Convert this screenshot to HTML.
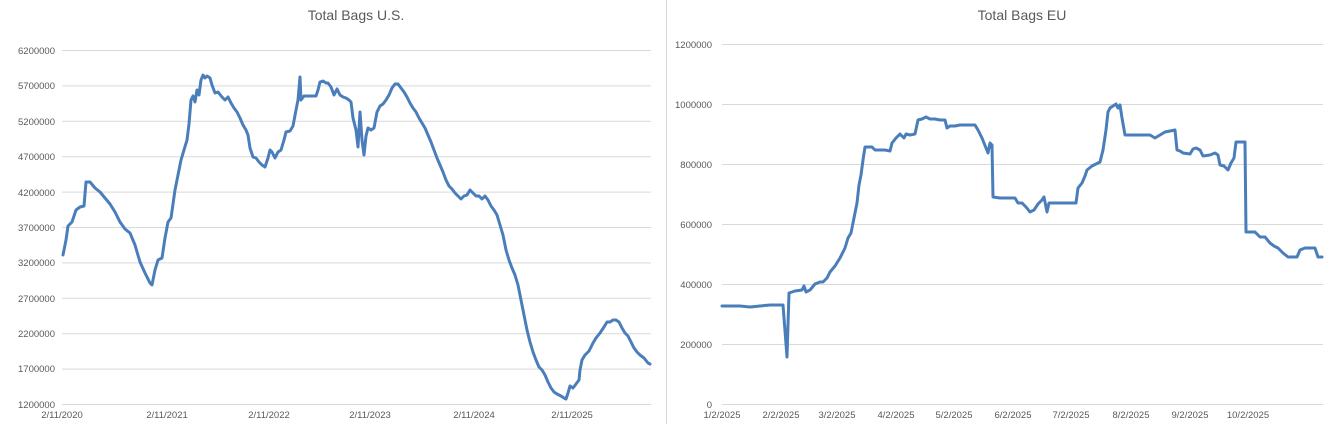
<!DOCTYPE html>
<html><head><meta charset="utf-8"><style>
html,body{margin:0;padding:0;background:#fff;}
svg{display:block;font-family:"Liberation Sans",sans-serif;}
</style></head><body>
<svg width="1331" height="424" viewBox="0 0 1331 424" xmlns="http://www.w3.org/2000/svg">
<rect width="1331" height="424" fill="#fff"/>
<line x1="666.5" y1="0" x2="666.5" y2="424" stroke="#d9d9d9"/>
<g fill="#595959" font-size="14" text-anchor="middle">
<text x="356" y="20">Total Bags U.S.</text>
<text x="1022" y="20">Total Bags EU</text>
</g>
<g stroke="#d9d9d9" stroke-width="1">
<line x1="62" x2="651" y1="50.5" y2="50.5"/><line x1="62" x2="651" y1="85.9" y2="85.9"/>
<line x1="62" x2="651" y1="121.3" y2="121.3"/><line x1="62" x2="651" y1="156.7" y2="156.7"/>
<line x1="62" x2="651" y1="192.1" y2="192.1"/><line x1="62" x2="651" y1="227.5" y2="227.5"/>
<line x1="62" x2="651" y1="262.9" y2="262.9"/><line x1="62" x2="651" y1="298.3" y2="298.3"/>
<line x1="62" x2="651" y1="333.7" y2="333.7"/><line x1="62" x2="651" y1="369.1" y2="369.1"/>
<line x1="62" x2="651" y1="404.5" y2="404.5"/>
<line x1="722" x2="1323" y1="44.5" y2="44.5"/><line x1="722" x2="1323" y1="104.5" y2="104.5"/>
<line x1="722" x2="1323" y1="164.5" y2="164.5"/><line x1="722" x2="1323" y1="224.5" y2="224.5"/>
<line x1="722" x2="1323" y1="284.5" y2="284.5"/><line x1="722" x2="1323" y1="344.5" y2="344.5"/>
<line x1="722" x2="1323" y1="404.5" y2="404.5"/>
</g>
<g fill="#595959" font-size="9.5" text-anchor="end">
<text x="55" y="54">6200000</text><text x="55" y="89">5700000</text><text x="55" y="125">5200000</text>
<text x="55" y="160">4700000</text><text x="55" y="196">4200000</text><text x="55" y="231">3700000</text>
<text x="55" y="266">3200000</text><text x="55" y="302">2700000</text><text x="55" y="337">2200000</text>
<text x="55" y="372">1700000</text><text x="55" y="408">1200000</text>
<text x="712" y="48">1200000</text><text x="712" y="108">1000000</text><text x="712" y="168">800000</text>
<text x="712" y="228">600000</text><text x="712" y="288">400000</text><text x="712" y="348">200000</text>
<text x="712" y="408">0</text>
</g>
<g fill="#595959" font-size="9.5" text-anchor="middle">
<text x="62" y="418">2/11/2020</text><text x="167" y="418">2/11/2021</text><text x="269" y="418">2/11/2022</text>
<text x="370" y="418">2/11/2023</text><text x="474" y="418">2/11/2024</text><text x="572" y="418">2/11/2025</text>
<text x="722" y="418">1/2/2025</text><text x="781" y="418">2/2/2025</text><text x="837" y="418">3/2/2025</text>
<text x="896" y="418">4/2/2025</text><text x="954" y="418">5/2/2025</text><text x="1013" y="418">6/2/2025</text>
<text x="1071" y="418">7/2/2025</text><text x="1131" y="418">8/2/2025</text><text x="1190" y="418">9/2/2025</text>
<text x="1248" y="418">10/2/2025</text>
</g>
<g fill="none" stroke="#4a7ebb" stroke-width="3" stroke-linejoin="round" stroke-linecap="round">
<polyline points="63,255 66,240 68,226 72,222 76,210 80,207 84,206 86,182 90,182 95,188 100,192 105,198 110,204 115,212 120,222 125,229 130,233 135,245 140,262 145,273 150,283 152,285 155,270 158,260 162,258 165,238 168,222 171,218 175,190 178,175 181,160 184,150 187,140 189,124 191,100 193,96 195,102 197,90 199,95 201,80 203,75 205,78 207,76 210,78 212,85 215,93 218,92 222,97 225,100 228,97 231,103 234,108 237,112 240,118 243,125 246,130 248,135 250,148 253,157 256,158 259,162 262,165 265,167 268,158 270,150 272,152 275,158 278,152 281,150 284,140 286,132 290,131 293,126 296,110 298,100 300,77 301,100 304,96 308,96 312,96 316,96 318,90 320,82 323,81 326,83 328,83 331,87 334,95 337,89 340,95 343,97 346,98 349,100 351,102 353,118 356,130 358,147 360,112 362,140 364,155 366,136 368,128 371,130 374,128 377,112 380,106 383,104 386,100 389,95 392,88 395,84 398,84 401,88 404,92 407,97 410,103 413,108 416,112 419,118 422,123 425,128 428,135 431,142 434,150 437,158 440,165 443,172 446,180 449,186 452,189 455,193 458,196 461,199 464,196 467,195 470,190 473,193 476,196 479,196 482,199 485,196 488,200 491,206 494,210 497,215 500,225 503,235 506,250 509,260 512,268 515,275 518,285 521,300 524,315 527,330 530,342 533,352 536,360 539,367 542,370 545,375 548,382 551,388 554,392 557,394 561,396 564,398 566,399 568,393 570,386 573,388 576,384 579,380 580,370 582,360 585,355 589,351 593,343 596,338 600,333 604,327 607,322 610,322 613,320 616,320 619,322 622,328 625,333 628,336 631,342 634,348 637,352 640,355 644,358 648,363 650,364"/>
<polyline points="722,306 740,306 750,307 760,306 770,305 783,305 787,357 789,293 795,291 802,290 804,286 806,292 810,290 815,284 820,282 823,282 827,278 830,272 835,266 840,258 845,248 848,238 851,233 854,218 857,203 859,185 861,175 863,160 865,147 867,147 872,147 875,150 885,150 890,151 892,143 896,138 900,134 904,138 906,134 910,135 915,134 918,120 922,119 926,117 930,119 935,119 940,120 945,120 947,128 950,126 955,126 960,125 963,125 970,125 975,125 978,130 982,138 986,148 988,153 990,143 992,145 993,197 1000,198 1010,198 1015,198 1018,203 1022,203 1026,207 1030,212 1034,210 1038,204 1042,200 1044,197 1047,212 1049,203 1055,203 1065,203 1076,203 1078,188 1082,183 1085,176 1087,170 1092,166 1096,164 1100,162 1103,150 1106,130 1108,112 1110,108 1113,106 1116,104 1118,108 1120,105 1122,118 1125,135 1140,135 1150,135 1155,138 1160,135 1165,132 1170,131 1175,130 1177,150 1180,151 1183,153 1190,154 1193,149 1196,148 1200,150 1203,156 1210,155 1215,153 1218,155 1220,165 1224,166 1228,170 1231,163 1234,158 1236,142 1245,142 1246,232 1255,232 1260,237 1265,237 1270,243 1274,246 1278,248 1283,253 1288,257 1292,257 1297,257 1300,250 1305,248 1315,248 1318,257 1322,257"/>
</g>
</svg>
</body></html>
